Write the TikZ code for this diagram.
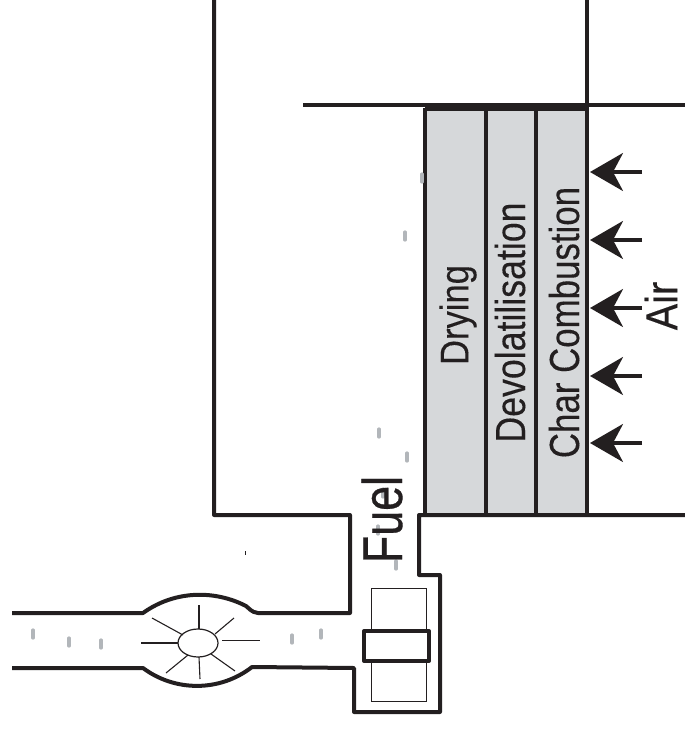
\documentclass[tikz,border=0pt]{standalone}
\usepackage{fontspec}
\setmainfont{Liberation Sans}
\newfontfamily\labfont[FakeBold=0.25]{Liberation Sans}
\newfontfamily\fuelfont[FakeBold=0.6]{Liberation Sans}
\usetikzlibrary{arrows.meta}
\definecolor{bedgrey}{RGB}{214,216,218}
\definecolor{specgrey}{RGB}{178,182,186}
\definecolor{inkblack}{RGB}{35,31,32}
\newcommand{\squeezed}[3]{\fontsize{#1}{#1}\labfont\scalebox{#2}[1]{#3}}
\tikzset{
  wall/.style={draw=inkblack,line width=4pt,line join=round},
  band/.style={draw=inkblack,line width=3.4pt},
  thin/.style={draw=inkblack,line width=1pt},
  spoke/.style={draw=inkblack,line width=1.1pt},
  speck/.style={draw=specgrey,line width=3.2pt,line cap=round},
  airarrow/.style={draw=inkblack,line width=3.6pt,-{Stealth[length=33pt,width=38pt,inset=10pt]}},
  rot/.style={rotate=90,inner sep=0pt,anchor=center,text=inkblack},
}
\begin{document}
\begin{tikzpicture}[x=1pt,y=-1pt]
\useasboundingbox (0,0) rectangle (685,729);
% bed
\fill[bedgrey] (425,108) rectangle (587,515);
\draw[band] (486,108) -- (486,515);
\draw[band] (536,108) -- (536,515);
\draw[band] (425,108) -- (425,515);
\draw[wall] (425,109) -- (587,109);
% walls
\draw[wall] (303,105) -- (685,105);
\draw[wall] (587,0) -- (587,515);
\draw[wall] (214,0) -- (214,515) -- (350,515) -- (350,613) -- (258,613)
  .. controls (251,612) and (250,609) .. (246,606)
  .. controls (215,590) and (175,590) .. (143,613) -- (12,613);
\draw[wall] (12,668) -- (143,668)
  .. controls (175,692) and (220,692) .. (252,667) -- (354,668) -- (354,712) -- (440,712) -- (440,575) -- (419,575) -- (419,515) -- (685,515);
% feeder
\draw[thin] (371,588) rectangle (426,701);
\draw[wall,fill=white] (364,631) rectangle (429,661);
% burner
\draw[thin,line width=1.2pt] (198,643) ellipse [x radius=20,y radius=14];
\draw[spoke] (199,605) -- (199,629);
\draw[spoke] (234,618) -- (215,634);
\draw[spoke] (222,640.5) -- (260,640.5);
\draw[spoke] (211,654) -- (235,671);
\draw[spoke] (199,657) -- (200,679);
\draw[spoke] (188,655) -- (166,673);
\draw[spoke] (178,643) -- (141,643);
\draw[spoke] (183,635) -- (152,618);
% specks
\foreach \sx/\sy in {33/634,69/642,101/644,292/639,321/634,378/530,383/493,396/565,422/178,405/236,379/433,407/457}
  \draw[speck] (\sx,\sy-4) -- (\sx,\sy+4);
\draw[inkblack,line width=1pt] (245,551) -- (245,555);
% air arrows
\foreach \ay in {172,240,308,376,443}
  \draw[airarrow] (642,\ay) -- (590,\ay);
% labels
\node[rot] (dry) at (458,315) {\squeezed{40}{0.865}{Drying}};
\node[rot] (dev) at (510,322.5) {\squeezed{42}{0.85}{Devolatilisation}};
\node[rot] (cha) at (564,322.5) {\squeezed{42}{0.83}{Char Combustion}};
\node[rot] (air) at (661,306) {\squeezed{45}{0.88}{Air}};
\node[rot] (fue) at (382,519.5) {\fontsize{56}{56}\fuelfont\scalebox{0.8}[1]{Fuel}};
\end{tikzpicture}
\end{document}
